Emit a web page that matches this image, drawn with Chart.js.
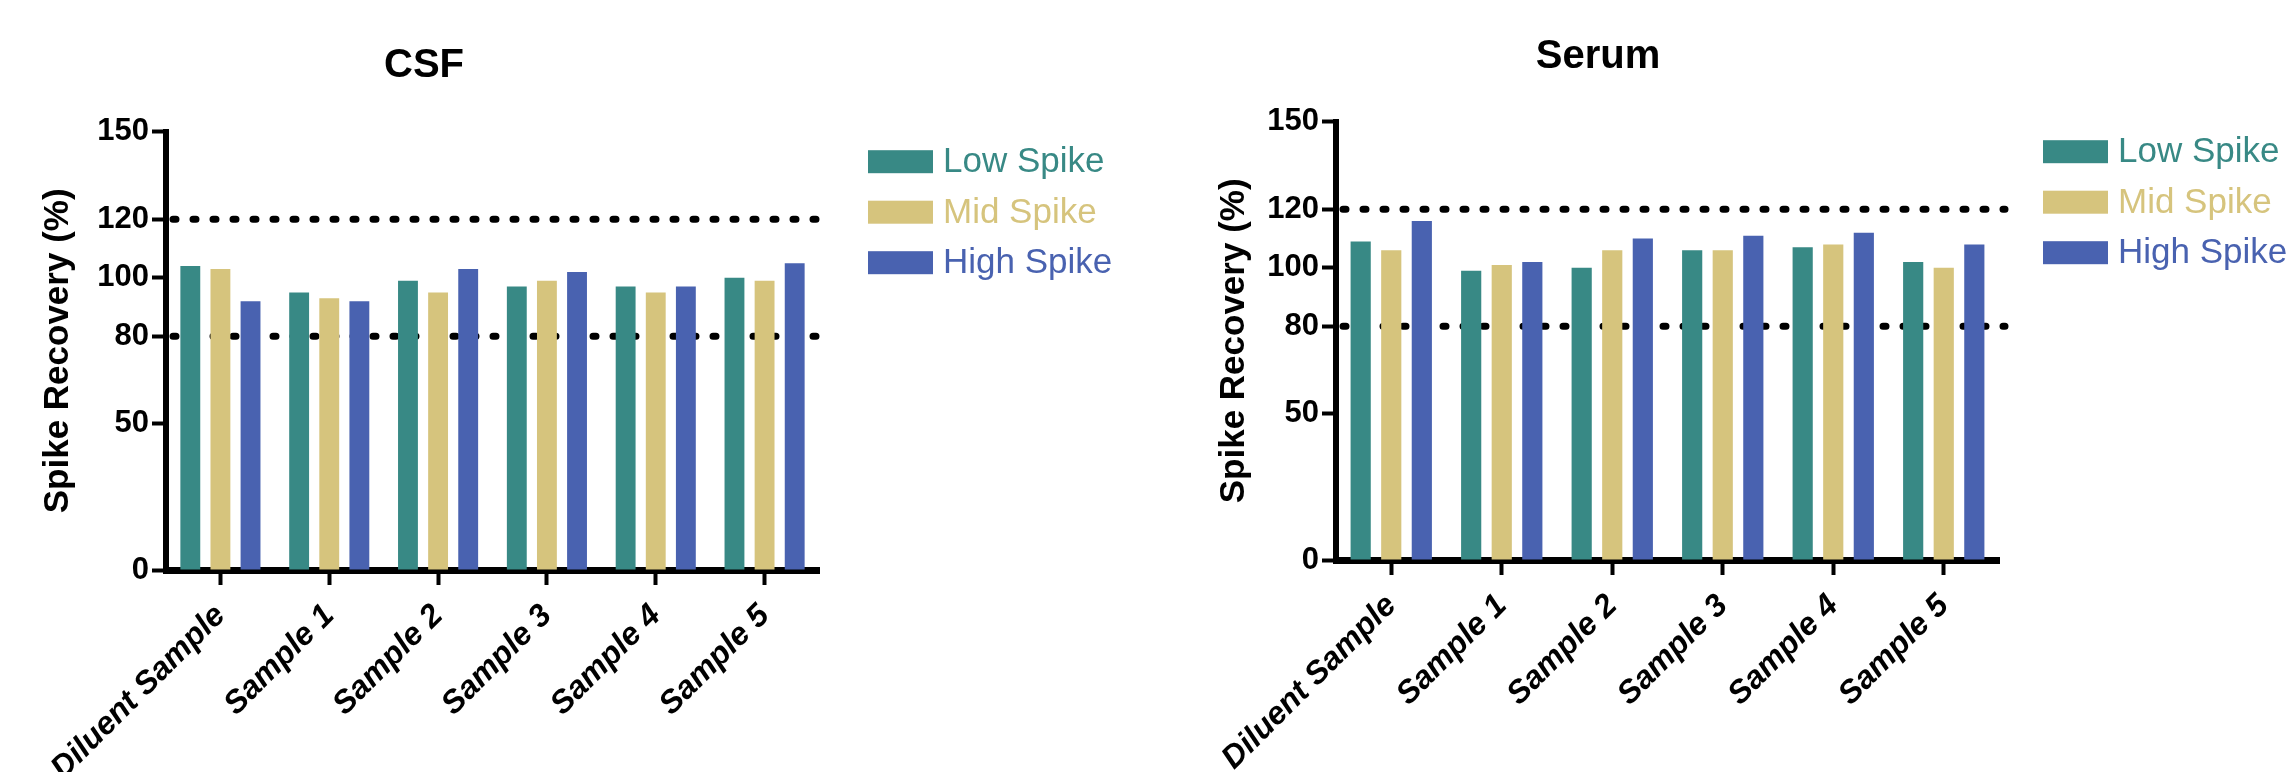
<!DOCTYPE html>
<html>
<head>
<meta charset="utf-8">
<script src="https://cdn.jsdelivr.net/npm/chart.js@4.4.1/dist/chart.umd.min.js"></script>
<style>
  html, body { margin: 0; padding: 0; background: #fff; width: 2293px; height: 772px; overflow: hidden; }
  canvas { position: absolute; top: 0; }
  #csf { left: 0; }
  #serum { left: 1150px; }
</style>
</head>
<body>
<canvas id="csf" width="1150" height="772"></canvas>
<canvas id="serum" width="1143" height="772"></canvas>
<script>
// Sample groups along the x axis
const categories = ['Diluent Sample', 'Sample 1', 'Sample 2', 'Sample 3', 'Sample 4', 'Sample 5'];

// Spike levels (one bar per level in every group)
const seriesNames = ['Low Spike', 'Mid Spike', 'High Spike'];
const seriesColors = ['#388985', '#D6C47D', '#4962B0'];

// Spike recovery (%) in CSF
const csfLow  = [104, 95, 99, 97, 97, 100];
const csfMid  = [103, 93, 95, 99, 95, 99];
const csfHigh = [92, 92, 103, 102, 97, 105];

// Spike recovery (%) in serum
const serumLow  = [109, 99, 100, 106, 107, 102];
const serumMid  = [106, 101, 106, 106, 108, 100];
const serumHigh = [116, 102, 110, 111, 112, 108];

// Y axis ticks and acceptance limits
const yTicks = [0, 50, 80, 100, 120, 150];
const limitLines = [80, 120];

const FONT = "'Liberation Sans', Arial, Helvetica, sans-serif";
Chart.defaults.color = '#000';
Chart.defaults.font.family = FONT;

// Dotted acceptance limits, drawn beneath the bars
const limitLinePlugin = {
  id: 'limitLines',
  beforeDatasetsDraw(chart) {
    const { ctx, chartArea, scales } = chart;
    ctx.save();
    ctx.strokeStyle = '#000';
    ctx.lineWidth = 7;
    ctx.lineCap = 'round';
    ctx.setLineDash([3, 17]);
    limitLines.forEach(v => {
      const y = scales.y.getPixelForValue(v);
      ctx.beginPath();
      ctx.moveTo(chartArea.left + 7, y);
      ctx.lineTo(chartArea.right + 6, y);
      ctx.stroke();
    });
    ctx.restore();
  }
};

// Legend to the right of the plot: colour box plus coloured label
const sideLegendPlugin = {
  id: 'sideLegend',
  afterDraw(chart, args, opts) {
    const { ctx, chartArea } = chart;
    const x0 = chartArea.right + opts.gap;
    ctx.save();
    ctx.font = '35px ' + FONT;
    ctx.textBaseline = 'middle';
    ctx.textAlign = 'left';
    chart.data.datasets.forEach((ds, i) => {
      const yc = chartArea.top + 30 + i * 50.5;
      ctx.fillStyle = ds.backgroundColor;
      ctx.fillRect(x0, yc - 11.5, 65, 23);
      ctx.fillText(ds.label, x0 + 75, yc + 1);
    });
    ctx.restore();
  }
};

function makeChart(id, title, values, lay) {
  return new Chart(document.getElementById(id), {
    type: 'bar',
    data: {
      labels: categories,
      datasets: seriesNames.map((name, i) => ({
        label: name,
        data: values[i],
        backgroundColor: seriesColors[i],
        borderWidth: 0,
        categoryPercentage: 0.83,
        barPercentage: 0.66
      }))
    },
    options: {
      responsive: false,
      devicePixelRatio: 1,
      animation: false,
      layout: { padding: { left: lay.padL, right: lay.padR, top: 0, bottom: 0 } },
      plugins: {
        legend: { display: false },
        tooltip: { enabled: false },
        title: {
          display: true,
          text: title,
          color: '#000',
          font: { size: 40, weight: 'bold', family: FONT },
          padding: lay.titlePad
        },
        sideLegend: { gap: lay.legendGap }
      },
      scales: {
        x: {
          offset: true,
          grid: {
            offset: false,
            drawOnChartArea: false,
            drawTicks: true,
            tickLength: 15,
            tickWidth: 4,
            tickColor: '#000'
          },
          border: { display: true, color: '#000', width: 7 },
          ticks: {
            autoSkip: false,
            minRotation: 45,
            maxRotation: 45,
            padding: 12,
            color: '#000',
            font: { size: 32, weight: 'bold', style: 'italic', family: FONT }
          },
          afterFit(scale) { scale.height = lay.xHeight; }
        },
        y: {
          min: 0,
          max: 150,
          grid: {
            drawOnChartArea: false,
            drawTicks: true,
            tickLength: 14,
            tickWidth: 4,
            tickColor: '#000'
          },
          border: { display: true, color: '#000', width: 6 },
          ticks: {
            padding: 3,
            color: '#000',
            font: { size: 31, weight: 'bold', family: FONT }
          },
          afterBuildTicks(scale) { scale.ticks = yTicks.map(v => ({ value: v })); },
          title: {
            display: true,
            text: 'Spike Recovery (%)',
            color: '#000',
            font: { size: 35, weight: 'bold', family: FONT },
            padding: { top: lay.yTitlePad, bottom: 0 }
          },
          afterFit(scale) { scale.width = lay.yWidth; }
        }
      }
    },
    plugins: [limitLinePlugin, sideLegendPlugin]
  });
}

makeChart('csf', 'CSF', [csfLow, csfMid, csfHigh], {
  padL: 29, padR: 331, yWidth: 137, xHeight: 202,
  titlePad: { top: 42, bottom: 41.7 }, yTitlePad: 8, legendGap: 49
});

makeChart('serum', 'Serum', [serumLow, serumMid, serumHigh], {
  padL: 47, padR: 294, yWidth: 139, xHeight: 212,
  titlePad: { top: 33, bottom: 40.7 }, yTitlePad: 16, legendGap: 44
});
</script>
</body>
</html>
